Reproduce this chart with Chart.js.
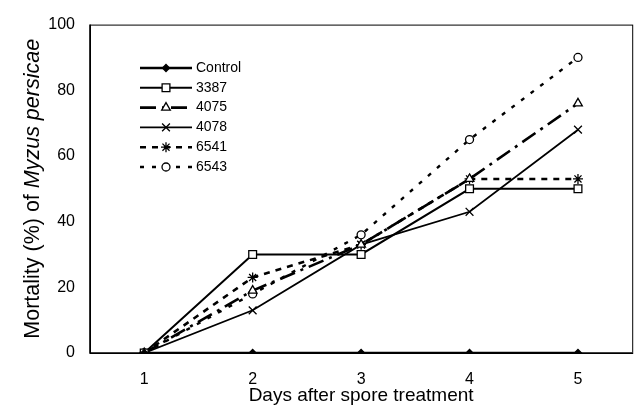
<!DOCTYPE html>
<html>
<head>
<meta charset="utf-8">
<script src="https://cdn.jsdelivr.net/npm/chart.js@4/dist/chart.umd.min.js"></script>
<style>
  html, body { margin: 0; padding: 0; background: #fff; }
  #wrap { width: 639px; height: 411px; }
</style>
</head>
<body>
<div id="wrap"><canvas id="mortalityChart" width="639" height="411"></canvas></div>
<script>
// Mortality of Myzus persicae after spore treatment
const days = ['1', '2', '3', '4', '5'];
const yTicks = [0, 20, 40, 60, 80, 100];

const control = [0, 0, 0, 0, 0];
const s3387 = [0, 30, 30, 50, 50];
const s4075 = [0, 19, 33, 53, 76];
const s4078 = [0, 13, 33, 43, 68];
const s6541 = [0, 23, 33, 53, 53];
const s6543 = [0, 18, 36, 65, 90];

const FONT = '"Liberation Sans", Arial, sans-serif';

function series(label, data, style) {
    return Object.assign({
        label: label,
        data: data,
        borderColor: '#000',
        pointBorderColor: '#000',
        pointBackgroundColor: '#fff',
        pointBorderWidth: 1.3,
        tension: 0
    }, style);
}

const datasets = [
    series('Control', control, { borderWidth: 2.4, pointStyle: 'rectRot', pointRadius: 3.5, pointBackgroundColor: '#000' }),
    series('3387', s3387, { borderWidth: 2, pointStyle: 'rect', pointRadius: 5.5 }),
    series('4075', s4075, { borderWidth: 2.6, borderDash: [16, 6, 3, 6], pointStyle: 'triangle', pointRadius: 5 }),
    series('4078', s4078, { borderWidth: 1.8, pointStyle: 'crossRot', pointRadius: 5.5 }),
    series('6541', s6541, { borderWidth: 2.6, borderDash: [6, 6], pointStyle: 'star', pointRadius: 5 }),
    series('6543', s6543, { borderWidth: 2.4, borderDash: [4, 8], pointStyle: 'circle', pointRadius: 4 })
];

// frame, axis titles and the line+marker legend drawn by hand
const decorations = {
    id: 'decorations',
    afterDraw(chart) {
        const ctx = chart.ctx;
        const a = chart.chartArea;
        ctx.save();

        // plot frame
        ctx.strokeStyle = '#000';
        ctx.lineWidth = 1;
        ctx.strokeRect(a.left + 0.5, a.top + 0.5, a.right - a.left, a.bottom - a.top);
        ctx.lineWidth = 1.6;
        ctx.beginPath();
        ctx.moveTo(a.left, a.top);
        ctx.lineTo(a.left, a.bottom);
        ctx.lineTo(a.right, a.bottom);
        ctx.stroke();

        ctx.fillStyle = '#000';

        // x title
        ctx.font = '19px ' + FONT;
        ctx.textAlign = 'center';
        ctx.textBaseline = 'middle';
        ctx.fillText('Days after spore treatment', (a.left + a.right) / 2, 396);

        // y title, plain + italic species name
        const plain = 'Mortality (%) of ';
        const italic = 'Myzus persicae';
        const ySize = '21.5px ';
        ctx.font = ySize + FONT;
        const w1 = ctx.measureText(plain).width;
        ctx.font = 'italic ' + ySize + FONT;
        const w2 = ctx.measureText(italic).width;
        ctx.translate(33, (a.top + a.bottom) / 2);
        ctx.rotate(-Math.PI / 2);
        ctx.textAlign = 'left';
        ctx.font = ySize + FONT;
        ctx.fillText(plain, -(w1 + w2) / 2, 0);
        ctx.font = 'italic ' + ySize + FONT;
        ctx.fillText(italic, -(w1 + w2) / 2 + w1, 0);
        ctx.setTransform(1, 0, 0, 1, 0, 0);

        // legend
        ctx.font = '14px ' + FONT;
        ctx.textAlign = 'left';
        chart.data.datasets.forEach((ds, i) => {
            const y = 68 + i * 19.8;
            ctx.save();
            ctx.strokeStyle = '#000';
            ctx.lineWidth = ds.borderWidth;
            ctx.setLineDash(ds.borderDash || []);
            ctx.beginPath();
            ctx.moveTo(140, y);
            ctx.lineTo(192, y);
            ctx.stroke();
            ctx.restore();
            ctx.save();
            ctx.fillStyle = ds.pointBackgroundColor;
            ctx.strokeStyle = '#000';
            ctx.lineWidth = ds.pointBorderWidth;
            ctx.setLineDash([]);
            Chart.helpers.drawPoint(ctx, {
                pointStyle: ds.pointStyle,
                radius: ds.pointRadius,
                rotation: 0,
                borderWidth: ds.pointBorderWidth
            }, 166, y);
            ctx.restore();
            ctx.fillStyle = '#000';
            ctx.fillText(ds.label, 196, y);
        });

        ctx.restore();
    }
};

new Chart(document.getElementById('mortalityChart'), {
    type: 'line',
    data: { labels: days, datasets: datasets },
    options: {
        responsive: false,
        animation: false,
        layout: { padding: { top: 17, right: 6, left: 0, bottom: 0 } },
        plugins: {
            legend: { display: false },
            tooltip: { enabled: false }
        },
        scales: {
            x: {
                type: 'category',
                offset: true,
                grid: { display: false, drawTicks: false },
                border: { display: false },
                ticks: { color: '#000', font: { family: FONT, size: 16 }, padding: 17 },
                afterFit: scale => { scale.height = 58; }
            },
            y: {
                min: 0,
                max: 100,
                grid: { display: false, drawTicks: false },
                border: { display: false },
                afterBuildTicks: scale => { scale.ticks = yTicks.map(v => ({ value: v })); },
                ticks: { color: '#000', font: { family: FONT, size: 16 }, padding: 15 },
                afterFit: scale => { scale.width = 90; }
            }
        }
    },
    plugins: [decorations]
});
</script>
</body>
</html>
